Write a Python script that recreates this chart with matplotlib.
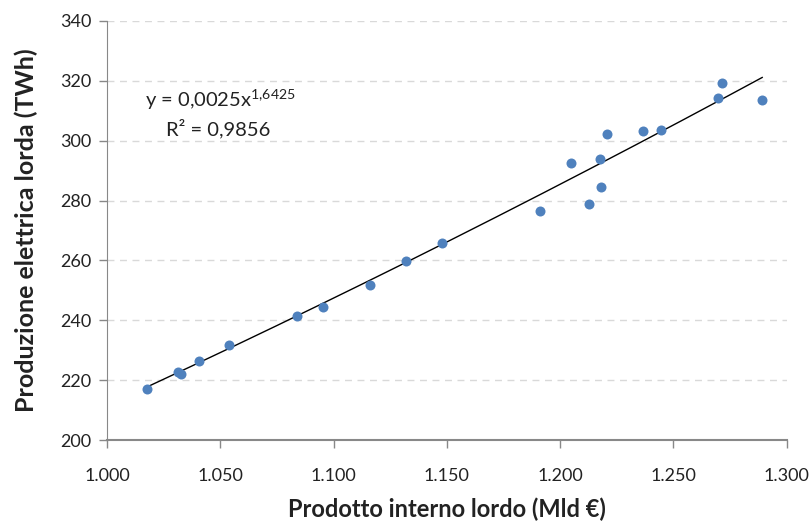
import numpy as np
from matplotlib import pyplot as plt

plt.rcParams['font.family'] = ['Lato', 'DejaVu Sans']
plt.rcParams['mathtext.default'] = 'regular'

# Prodotto interno lordo (Mld €) vs produzione elettrica lorda (TWh)
pil = [1017.6, 1031.3, 1032.6, 1040.6, 1053.8, 1083.8, 1095.3, 1116.0, 1132.0,
       1148.0, 1191.0, 1205.0, 1212.6, 1217.5, 1218.0, 1220.6, 1236.5, 1244.4,
       1269.6, 1271.3, 1289.2]
produzione = [217.0, 222.7, 222.0, 226.4, 231.7, 241.4, 244.4, 251.8, 259.8,
              265.8, 276.5, 292.5, 278.9, 293.9, 284.5, 302.2, 303.2, 303.6,
              314.3, 319.3, 313.6]

x_ticks = [1000, 1050, 1100, 1150, 1200, 1250, 1300]
x_labels = ['1.000', '1.050', '1.100', '1.150', '1.200', '1.250', '1.300']
y_ticks = [200, 220, 240, 260, 280, 300, 320, 340]

fig = plt.figure(figsize=(8.11, 5.22), dpi=100)
ax = fig.add_axes([0.132, 0.157, 0.838, 0.803])

ax.plot(pil, produzione, 'o', color='#4F81BD', markersize=7.2,
        markeredgewidth=0, zorder=3)

# trend line (power law)
a, b = 0.0025, 1.6425
xs = np.linspace(min(pil), max(pil), 200)
ax.plot(xs, a * xs ** b, color='black', linewidth=1.0, zorder=2)

ax.text(145 / 811, 1 - 100 / 522, r'y = 0,0025x$^{1{,}6425}$',
        transform=fig.transFigure, fontsize=14.5, va='center', ha='left',
        color='#222222')
ax.text(166 / 811, 1 - 129 / 522, 'R² = 0,9856', transform=fig.transFigure,
        fontsize=14.5, va='center', ha='left', color='#222222')

ax.set_xlim(1000, 1300)
ax.set_ylim(200, 340)
ax.set_xticks(x_ticks)
ax.set_xticklabels(x_labels)
ax.set_yticks(y_ticks)
ax.tick_params(axis='both', labelsize=13, color='#888888', length=6,
               width=1, labelcolor='#222222')
ax.tick_params(axis='x', pad=14)
ax.tick_params(axis='y', pad=5)

ax.yaxis.grid(True, linestyle=(0, (5, 4)), color='#D9D9D9', linewidth=1)
ax.set_axisbelow(True)
for side in ['top', 'right']:
    ax.spines[side].set_visible(False)
for side in ['left', 'bottom']:
    ax.spines[side].set_color('#888888')
ax.spines['bottom'].set_linewidth(1.5)

ax.set_xlabel('Prodotto interno lordo (Mld €)', fontsize=17, fontweight='bold',
              labelpad=10, color='#222222')
ax.set_ylabel('Produzione elettrica lorda (TWh)', fontsize=18, fontweight='bold',
              labelpad=16, color='#222222')

fig.savefig('out.png', dpi=100)
